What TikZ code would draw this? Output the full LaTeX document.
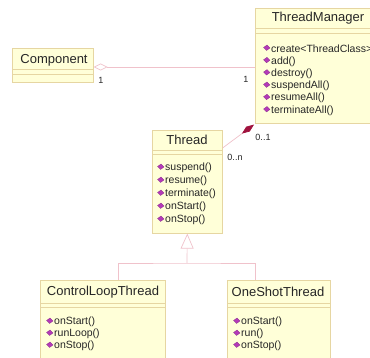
\documentclass[tikz,border=0pt]{standalone}
\usepackage{fontspec}
\setmainfont{Liberation Sans}
\usetikzlibrary{arrows.meta, positioning, calc}
\definecolor{colClassFill}{HTML}{FFFFD8}
\definecolor{colClassLine}{HTML}{E6D6A2}
\definecolor{colLink}  {HTML}{F0C2CB}
\definecolor{colComp}  {HTML}{A0123E}
\definecolor{colOp}    {HTML}{B43AB8}
\definecolor{colText}  {HTML}{262626}
\tikzset{
  classbox/.style={
    draw=colClassLine, fill=colClassFill, line width=0.6pt,
    anchor=north west, inner sep=0pt
  },
  classname/.style={font=\fontsize{13}{15}\selectfont, text=colText, inner sep=0pt},
  opname/.style   ={font=\fontsize{10.5}{12}\selectfont, text=colText, inner sep=0pt, anchor=west},
  opicon/.style   ={fill=colOp, draw=colOp!70!black, line width=0.2pt},
  sepline/.style  ={draw=colClassLine, line width=0.6pt},
  mult/.style     ={font=\fontsize{9}{10}\selectfont, text=colText, inner sep=0pt},
  assoc/.style    ={draw=colLink, line width=0.7pt},
  aggr/.style     ={assoc, {Diamond[open, length=14pt, width=7pt, fill=white]}-},
  compos/.style   ={assoc, {Diamond[length=15pt, width=6pt, color=colComp]}-},
  inherit/.style  ={assoc, -{Triangle[open, length=15pt, width=13pt, fill=white]}}
}
% small gem in front of an operation
\newcommand{\opgem}[1]{%
  \path[opicon] ([xshift=-7.5pt,yshift=1.5pt]#1.west) -- ++(3.5,-2.5) -- ++(3,3)
    -- ++(-3.5,2.5) -- cycle;}

\begin{document}
\begin{tikzpicture}[x=1pt, y=-1pt]
  \clip (0,0) rectangle (370,358);
  \fill[white] (0,0) rectangle (370,358);

  % classes
  \node[classbox, minimum width=81pt,  minimum height=34pt]  (comp)   at (12,48)   {};
  \node[classbox, minimum width=130pt, minimum height=115pt] (tm)     at (255,8)   {};
  \node[classbox, minimum width=70pt,  minimum height=103pt] (thread) at (152,130) {};
  \node[classbox, minimum width=125pt, minimum height=90pt]  (ctl)    at (40,280)  {};
  \node[classbox, minimum width=103pt, minimum height=90pt]  (one)    at (227,280) {};

  \node[classname] (compname)   at (54,60)    {Component};
  \node[classname] (tmname)     at (318,18)   {ThreadManager};
  \node[classname] (threadname) at (187,140)  {Thread};
  \node[classname] (ctlname)    at (103,292)  {ControlLoopThread};
  \node[classname] (onename)    at (278,292)  {OneShotThread};

  \draw[sepline] (12,69) -- (93,69)   (12,74) -- (93,74);
  \draw[sepline] (255,28) -- (385,28) (255,33) -- (385,33);
  \draw[sepline] (152,150) -- (222,150) (152,154) -- (222,154);
  \draw[sepline] (40,303) -- (165,303) (40,307) -- (165,307);
  \draw[sepline] (227,303) -- (330,303) (227,307) -- (330,307);

  % operations
  \foreach \op [count=\i] in {create<ThreadClass>, add(), destroy(),
      suspendAll(), resumeAll(), terminateAll()} {
    \node[opname] (tmop\i) at (271,36.7+12.3*\i) {\op};
    \opgem{tmop\i}
  }
  \foreach \op [count=\i] in {suspend(), resume(), terminate(), onStart(), onStop()} {
    \node[opname] (threadop\i) at (165,155+13*\i) {\op};
    \opgem{threadop\i}
  }
  \foreach \op [count=\i] in {onStart(), runLoop(), onStop()} {
    \node[opname] (ctlop\i) at (54,310+12*\i) {\op};
    \opgem{ctlop\i}
  }
  \foreach \op [count=\i] in {onStart(), run(), onStop()} {
    \node[opname] (oneop\i) at (241,310+12*\i) {\op};
    \opgem{oneop\i}
  }

  % relations
  \draw[aggr] (comp.east |- 0,67) -- (tm.west |- 0,67);
  \node[mult] (m1) at (101,80) {1};
  \node[mult] (m2) at (246,79) {1};

  \draw[compos] ([shift={(-1pt,-1pt)}]tm.south west) -- ([yshift=-18pt]thread.north east);
  \node[mult] (m3) at (263,137) {0..1};
  \node[mult] (m4) at (235,157) {0..n};

  \coordinate (split) at (187,263);
  \draw[inherit] (split) -- (thread.south);
  \draw[assoc] (118,280) |- (split) -| (255,280);
\end{tikzpicture}
\end{document}
